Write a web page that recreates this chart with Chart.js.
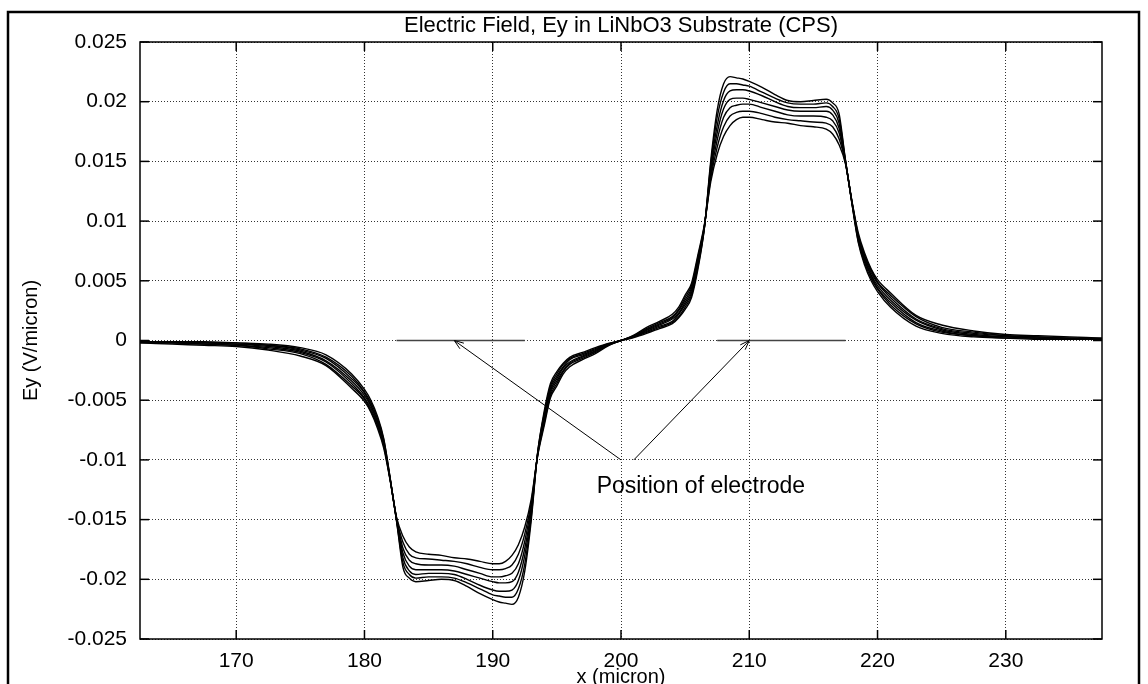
<!DOCTYPE html>
<html>
<head>
<meta charset="utf-8">
<title>Electric Field, Ey in LiNbO3 Substrate (CPS)</title>
<script src="https://cdn.jsdelivr.net/npm/chart.js@4.4.1/dist/chart.umd.min.js"></script>
<style>
  html, body { margin: 0; padding: 0; background: #fff; overflow: hidden; }
  #fieldChart { position: absolute; left: 0; top: 0; }
</style>
</head>
<body>
<canvas id="fieldChart" width="1148" height="684"></canvas>
<script>
// ---------- DATA ----------
const xMicron = [162.5,165,167.5,170,172.5,175,177,179,180,180.5,181,181.5,182,182.5,183,183.5,184,185,186,187,
  188,189,190,190.5,191,191.5,192,192.5,193,193.5,194,194.5,195,195.5,196,197,198,199,
  200,
  201,202,203,204,204.5,205,205.5,206,206.5,207,207.5,208,208.5,209,209.5,210,211,212,213,214,
  215,216,216.5,217,217.5,218,218.5,219,219.5,220,221,223,225,227.5,230,232.5,235,237.5];

// seven Ey curves (V/micron), from highest peak to lowest
const ey1 = [-.0001,-.0001,-.0001,-.0002,-.0003,-.0006,-.0012,-.0028,-.0041,-.0050,-.0063,-.0082,-.0115,-.0151,-.0190,-.0199,-.0202,-.0201,-.0200,-.0201,
  -.0206,-.0212,-.0217,-.0219,-.0220,-.0221,-.0215,-.0193,-.0151,-.0094,-.0060,-.0036,-.0026,-.0019,-.0014,-.0010,-.0006,-.00025,
  0,
  .00025,.0006,.0010,.0014,.0019,.0026,.0036,.0060,.0094,.0151,.0193,.0215,.0221,.0220,.0219,.0217,.0212,.0206,.0201,.0200,
  .0201,.0202,.0199,.0190,.0151,.0115,.0082,.0063,.0050,.0041,.0028,.0012,.0006,.0003,.0002,.0001,.0001,.0001];
const ey2 = [-.0001,-.0001,-.0002,-.0002,-.0004,-.0007,-.0014,-.0030,-.0043,-.0052,-.0065,-.0083,-.0115,-.0151,-.0186,-.0196,-.0199,-.0198,-.0198,-.0199,
  -.0203,-.0208,-.0213,-.0214,-.0215,-.0215,-.0208,-.0187,-.0148,-.0094,-.0062,-.0038,-.0028,-.0020,-.0015,-.0011,-.00068,-.00028,
  0,
  .00028,.00068,.0011,.0015,.0020,.0028,.0038,.0062,.0094,.0148,.0187,.0208,.0215,.0215,.0214,.0213,.0208,.0203,.0199,.0198,
  .0198,.0199,.0196,.0186,.0151,.0115,.0083,.0065,.0052,.0043,.0030,.0014,.0007,.0004,.0002,.0002,.0001,.0001];
const ey3 = [-.0001,-.0001,-.0002,-.0003,-.0004,-.0008,-.0015,-.0032,-.0044,-.0054,-.0067,-.0085,-.0116,-.0150,-.0182,-.0193,-.0196,-.0195,-.0195,-.0196,
  -.0200,-.0205,-.0209,-.0210,-.0210,-.0209,-.0201,-.0180,-.0145,-.0095,-.0064,-.0040,-.0030,-.0022,-.0016,-.0012,-.00076,-.00031,
  0,
  .00031,.00076,.0012,.0016,.0022,.0030,.0040,.0064,.0095,.0145,.0180,.0201,.0209,.0210,.0210,.0209,.0205,.0200,.0196,.0195,
  .0195,.0196,.0193,.0182,.0150,.0116,.0085,.0067,.0054,.0044,.0032,.0015,.0008,.0004,.0003,.0002,.0001,.0001];
const ey4 = [-.0001,-.0002,-.0002,-.0003,-.0005,-.0009,-.0017,-.0034,-.0046,-.0055,-.0068,-.0086,-.0116,-.0150,-.0178,-.0189,-.0192,-.0192,-.0192,-.0193,
  -.0196,-.0199,-.0202,-.0203,-.0203,-.0202,-.0194,-.0174,-.0142,-.0095,-.0066,-.0042,-.0032,-.0023,-.0018,-.0013,-.00084,-.00034,
  0,
  .00034,.00084,.0013,.0018,.0023,.0032,.0042,.0066,.0095,.0142,.0174,.0194,.0202,.0203,.0203,.0202,.0199,.0196,.0193,.0192,
  .0192,.0192,.0189,.0178,.0150,.0116,.0086,.0068,.0055,.0046,.0034,.0017,.0009,.0005,.0003,.0002,.0002,.0001];
const ey5 = [-.0001,-.0002,-.0003,-.0004,-.0006,-.0010,-.0018,-.0036,-.0048,-.0057,-.0070,-.0087,-.0116,-.0149,-.0174,-.0184,-.0187,-.0188,-.0188,-.0189,
  -.0192,-.0195,-.0198,-.0198,-.0197,-.0195,-.0187,-.0168,-.0139,-.0096,-.0068,-.0044,-.0034,-.0025,-.0019,-.0014,-.00092,-.00037,
  0,
  .00037,.00092,.0014,.0019,.0025,.0034,.0044,.0068,.0096,.0139,.0168,.0187,.0195,.0197,.0198,.0198,.0195,.0192,.0189,.0188,
  .0188,.0187,.0184,.0174,.0149,.0116,.0087,.0070,.0057,.0048,.0036,.0018,.0010,.0006,.0004,.0003,.0002,.0001];
const ey6 = [-.0002,-.0002,-.0003,-.0004,-.0007,-.0011,-.0020,-.0038,-.0049,-.0059,-.0071,-.0088,-.0117,-.0149,-.0169,-.0179,-.0182,-.0183,-.0184,-.0185,
  -.0187,-.0190,-.0192,-.0192,-.0191,-.0188,-.0179,-.0162,-.0136,-.0096,-.0070,-.0046,-.0036,-.0026,-.0020,-.0015,-.0010,-.00041,
  0,
  .00041,.0010,.0015,.0020,.0026,.0036,.0046,.0070,.0096,.0136,.0162,.0179,.0188,.0191,.0192,.0192,.0190,.0187,.0185,.0184,
  .0183,.0182,.0179,.0169,.0149,.0117,.0088,.0071,.0059,.0049,.0038,.0020,.0011,.0007,.0004,.0003,.0002,.0002];
const ey7 = [-.0002,-.0003,-.0004,-.0005,-.0008,-.0013,-.0021,-.0040,-.0051,-.0060,-.0073,-.0090,-.0117,-.0148,-.0164,-.0173,-.0177,-.0179,-.0180,-.0182,
  -.0183,-.0185,-.0187,-.0187,-.0185,-.0180,-.0171,-.0156,-.0133,-.0097,-.0072,-.0048,-.0038,-.0028,-.0022,-.0016,-.0011,-.00045,
  0,
  .00045,.0011,.0016,.0022,.0028,.0038,.0048,.0072,.0097,.0133,.0156,.0171,.0180,.0185,.0187,.0187,.0185,.0183,.0182,.0180,
  .0179,.0177,.0173,.0164,.0148,.0117,.0090,.0073,.0060,.0051,.0040,.0021,.0013,.0008,.0005,.0004,.0003,.0002];

// electrodes (x extent at Ey = 0) and annotation arrows
const electrodeLeft = [182.5, 192.5];
const electrodeRight = [207.5, 217.5];
const arrowTailX = [200, 201];
const arrowTailY = -0.01;
const arrowTipX = [187, 210];
const arrowTipY = 0;
const noteText = "Position of electrode";
const noteX = 198.1;
const noteY = -0.0122;

const titleText = "Electric Field, Ey in LiNbO3 Substrate (CPS)";
const xTitle = "x (micron)";
const yTitle = "Ey (V/micron)";
const xRange = [162.5, 237.5];
const yRange = [-0.025, 0.025];

const FONT = "'Liberation Sans', Arial, Helvetica, sans-serif";

// ---------- DATASETS ----------
const curves = [ey1, ey2, ey3, ey4, ey5, ey6, ey7].map((ys) => ({
  data: xMicron.map((x, i) => ({ x: x, y: ys[i] })),
  borderColor: "#000",
  borderWidth: 1.4,
  pointRadius: 0,
  cubicInterpolationMode: "monotone",
  fill: false,
}));

const electrodes = [electrodeLeft, electrodeRight].map((seg) => ({
  data: seg.map((x) => ({ x: x, y: 0 })),
  borderColor: "#444",
  borderWidth: 1.6,
  pointRadius: 0,
  fill: false,
}));

const arrows = arrowTailX.map((tx, i) => ({
  data: [{ x: tx, y: arrowTailY }, { x: arrowTipX[i], y: arrowTipY }],
  borderColor: "#000",
  borderWidth: 1,
  pointRadius: 0,
  fill: false,
}));

// ---------- DECORATION PLUGIN ----------
const gnuplotFrame = {
  id: "gnuplotFrame",
  afterDraw(chart) {
    const { ctx, chartArea: a } = chart;
    const xs = chart.scales.x;
    const ys = chart.scales.y;
    const seg = (x1, y1, x2, y2) => {
      ctx.beginPath();
      ctx.moveTo(x1, y1);
      ctx.lineTo(x2, y2);
      ctx.stroke();
    };
    ctx.save();
    ctx.strokeStyle = "#000";

    // outer page frame
    ctx.lineWidth = 2.5;
    ctx.strokeRect(8, 12, 1131, 720);

    // plot border + inward ticks
    ctx.lineWidth = 1.5;
    ctx.strokeRect(a.left, a.top, a.right - a.left, a.bottom - a.top);
    xs.ticks.forEach((t) => {
      const px = xs.getPixelForValue(t.value);
      seg(px, a.bottom, px, a.bottom - 9);
      seg(px, a.top, px, a.top + 9);
    });
    ys.ticks.forEach((t) => {
      const py = ys.getPixelForValue(t.value);
      seg(a.left, py, a.left + 9, py);
      seg(a.right, py, a.right - 9, py);
    });

    // arrow heads
    ctx.lineWidth = 1;
    arrowTailX.forEach((tx, i) => {
      const x0 = xs.getPixelForValue(tx), y0 = ys.getPixelForValue(arrowTailY);
      const x1 = xs.getPixelForValue(arrowTipX[i]), y1 = ys.getPixelForValue(arrowTipY);
      const ang = Math.atan2(y0 - y1, x0 - x1);
      [-0.35, 0.35].forEach((d) => {
        seg(x1, y1, x1 + 10 * Math.cos(ang + d), y1 + 10 * Math.sin(ang + d));
      });
    });

    // texts
    ctx.fillStyle = "#000";
    ctx.textAlign = "center";
    ctx.textBaseline = "middle";
    ctx.font = "22px " + FONT;
    ctx.fillText(titleText, (a.left + a.right) / 2, 26);
    ctx.font = "20px " + FONT;
    ctx.textBaseline = "top";
    ctx.fillText(xTitle, (a.left + a.right) / 2, 667);
    ctx.save();
    ctx.translate(31, (a.top + a.bottom) / 2);
    ctx.rotate(-Math.PI / 2);
    ctx.textBaseline = "middle";
    ctx.fillText(yTitle, 0, 0);
    ctx.restore();

    ctx.font = "23px " + FONT;
    ctx.textAlign = "left";
    ctx.textBaseline = "middle";
    ctx.fillText(noteText, xs.getPixelForValue(noteX), ys.getPixelForValue(noteY));
    ctx.restore();
  },
};

// ---------- CHART ----------
const tickFont = { family: FONT, size: 21 };

new Chart(document.getElementById("fieldChart"), {
  type: "line",
  data: { datasets: [...curves, ...electrodes, ...arrows] },
  options: {
    responsive: false,
    animation: false,
    devicePixelRatio: 1,
    layout: { padding: { left: 0, top: 42, right: 46, bottom: 0 } },
    plugins: { legend: { display: false }, tooltip: { enabled: false }, title: { display: false } },
    scales: {
      x: {
        type: "linear",
        min: xRange[0],
        max: xRange[1],
        afterFit: (s) => { s.height = 45; },
        ticks: { stepSize: 10, includeBounds: false, color: "#000", font: tickFont, padding: 10, maxRotation: 0 },
        grid: { color: "#333", drawTicks: false, lineWidth: 1 },
        border: { display: false, dash: [1, 2] },
      },
      y: {
        type: "linear",
        min: yRange[0],
        max: yRange[1],
        afterFit: (s) => { s.width = 140; },
        ticks: {
          stepSize: 0.005,
          color: "#000",
          font: tickFont,
          padding: 13,
          callback: (v) => String(Number(v.toFixed(3))),
        },
        grid: { color: "#333", drawTicks: false, lineWidth: 1 },
        border: { display: false, dash: [1, 2] },
      },
    },
  },
  plugins: [gnuplotFrame],
});
</script>
</body>
</html>
